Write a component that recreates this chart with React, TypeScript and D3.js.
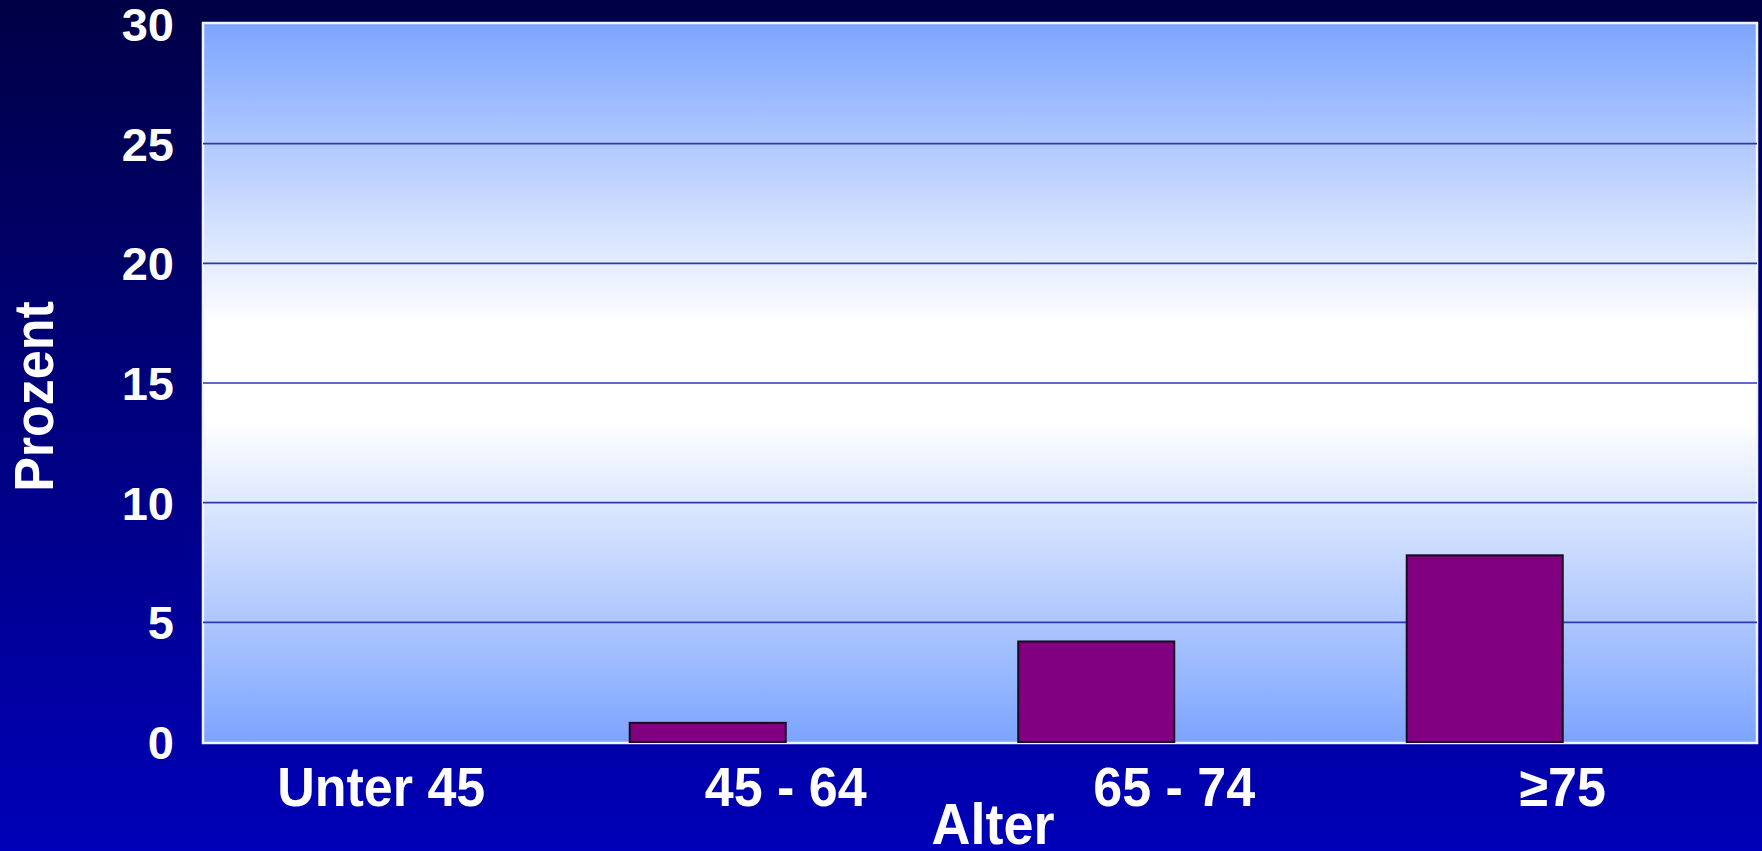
import React from "react";
import * as d3 from "d3";

const categories = ["Unter 45", "45 - 64", "65 - 74", "\u226575"];
const seriesNames = ["Prozent", "Leer"];
const prozentValues = [0, 0.8, 4.2, 7.8];
const leerValues = [0, 0, 0, 0];
const yTicks = [0, 5, 10, 15, 20, 25, 30];

const W = 1762;
const H = 851;
const plot = { left: 203, right: 1757, top: 24, bottom: 742 };

export default function App() {
  const x = d3.scaleBand<string>().domain(categories).range([plot.left, plot.right]).paddingInner(0).paddingOuter(0);
  const inner = d3
    .scaleBand<string>()
    .domain(seriesNames)
    .range([0, x.bandwidth()])
    .paddingInner(0)
    .paddingOuter(0.245);
  const y = d3.scaleLinear().domain([0, 30]).range([plot.bottom, plot.top]);
  const series = [prozentValues, leerValues];
  const font = "'Liberation Sans', Arial, sans-serif";

  return (
    <svg width={W} height={H} style={{ position: "absolute", left: 0, top: 0 }}>
      <defs>
        <linearGradient id="bg" x1="0" y1="0" x2="0" y2="1">
          <stop offset="0" stopColor="#000046" />
          <stop offset="1" stopColor="#0000B8" />
        </linearGradient>
        <linearGradient id="pa" x1="0" y1="0" x2="0" y2="1">
          <stop offset="0" stopColor="#7CA4FF" />
          <stop offset="0.42" stopColor="#FFFFFF" />
          <stop offset="0.55" stopColor="#FFFFFF" />
          <stop offset="1" stopColor="#7CA4FF" />
        </linearGradient>
      </defs>
      <rect x={0} y={0} width={W} height={H} fill="url(#bg)" />
      <rect
        x={plot.left}
        y={plot.top - 1}
        width={plot.right - plot.left}
        height={plot.bottom - plot.top + 2}
        fill="url(#pa)"
        stroke="#F0F4FF"
        strokeWidth={2.5}
      />
      {yTicks
        .filter((t) => t > 0 && t < 30)
        .map((t) => (
          <line key={t} x1={plot.left} x2={plot.right} y1={y(t)} y2={y(t)} stroke="#3038B0" strokeWidth={1.6} />
        ))}
      {series.map((vals, si) =>
        vals.map((v, i) =>
          v > 0 ? (
            <rect
              key={`${si}-${i}`}
              x={(x(categories[i]) as number) + (inner(seriesNames[si]) as number)}
              y={y(v)}
              width={inner.bandwidth()}
              height={y(0) - y(v)}
              fill="#800080"
              stroke="#1A0A20"
              strokeWidth={2}
            />
          ) : null
        )
      )}
      {yTicks.map((t) => (
        <text
          key={t}
          x={174}
          y={y(t)}
          dy="0.36em"
          textAnchor="end"
          fill="#FFFFFF"
          fontFamily={font}
          fontWeight="bold"
          fontSize={47}
        >
          {t}
        </text>
      ))}
      {categories.map((c, i) => (
        <text
          key={c}
          transform={`translate(${(x(c) as number) + x.bandwidth() / 2 - (i === 0 ? 16 : 0)}, 806) scale(1, 1.06)`}
          textAnchor="middle"
          fill="#FFFFFF"
          fontFamily={font}
          fontWeight="bold"
          fontSize={52}
        >
          {c}
        </text>
      ))}
      <text
        transform={`translate(${(plot.left + plot.right) / 2 + 13}, 844) scale(1, 1.06)`}
        textAnchor="middle"
        fill="#FFFFFF"
        fontFamily={font}
        fontWeight="bold"
        fontSize={54}
      >
        Alter
      </text>
      <text
        transform={`translate(53, 396.5) rotate(-90) scale(1, 1.07)`}
        textAnchor="middle"
        fill="#FFFFFF"
        fontFamily={font}
        fontWeight="bold"
        fontSize={52}
      >
        Prozent
      </text>
    </svg>
  );
}
